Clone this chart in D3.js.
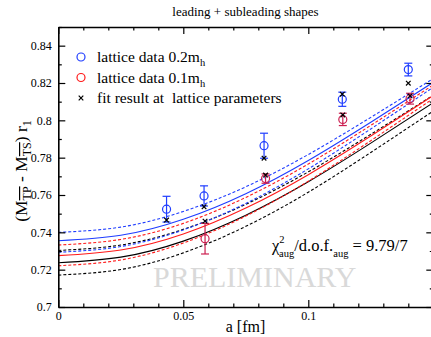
<!DOCTYPE html>
<html>
<head>
<meta charset="utf-8">
<script src="https://cdn.jsdelivr.net/npm/d3@7"></script>
<style>
  html, body { margin: 0; padding: 0; background: #fff; }
  svg { display: block; }
  svg text { font-family: "Liberation Serif", "Times New Roman", "DejaVu Serif", serif; }
</style>
</head>
<body>
<svg id="chart" width="431" height="337"></svg>
<script>
// Lattice spacing a [fm] and mass-splitting data
const blueA   = [0.0433, 0.0583, 0.0823, 0.1136, 0.1400];
const blueVal = [0.7524, 0.7595, 0.7864, 0.8113, 0.8272];
const blueErr = [0.0069, 0.0054, 0.0067, 0.0038, 0.0034];

const redA   = [0.0587, 0.0829, 0.1138, 0.1407];
const redVal = [0.7366, 0.7688, 0.8005, 0.8116];
const redErr = [0.0082, 0.0025, 0.0033, 0.0029];

const fitA   = [0.0433, 0.0583, 0.0823, 0.1136, 0.1400, 0.0587, 0.0829, 0.1138, 0.1407];
const fitVal = [0.7466, 0.7537, 0.7797, 0.8140, 0.8199, 0.7460, 0.7707, 0.8029, 0.8131];

// Continuum-extrapolation curves, sampled in a
const curveA = [0, 0.025, 0.05, 0.075, 0.1, 0.125, 0.15];
const blueMid  = [0.7355, 0.7384, 0.7470, 0.7607, 0.7785, 0.7990, 0.8204];
const blueHi   = [0.7400, 0.7428, 0.7512, 0.7644, 0.7817, 0.8016, 0.8224];
const blueLo   = [0.7293, 0.7324, 0.7413, 0.7555, 0.7740, 0.7954, 0.8177];
const redMid   = [0.7275, 0.7305, 0.7391, 0.7530, 0.7709, 0.7916, 0.8133];
const redHi    = [0.7332, 0.7362, 0.7448, 0.7587, 0.7766, 0.7973, 0.8190];
const redLo    = [0.7221, 0.7252, 0.7343, 0.7487, 0.7674, 0.7891, 0.8117];
const blackMid = [0.7237, 0.7267, 0.7353, 0.7492, 0.7671, 0.7878, 0.8095];
const blackHi  = [0.7303, 0.7332, 0.7416, 0.7550, 0.7724, 0.7925, 0.8135];
const blackLo  = [0.7171, 0.7201, 0.7290, 0.7432, 0.7615, 0.7828, 0.8050];

const xMajor = [0, 0.05, 0.1, 0.15];
const xLabeled = [0, 0.05, 0.1];
const yMajor = [0.7, 0.72, 0.74, 0.76, 0.78, 0.8, 0.82, 0.84];

const SERIF = "Liberation Serif, Times New Roman, serif";
const svg = d3.select("#chart");
const x = d3.scaleLinear().domain([0, 0.15]).range([58.3, 433.3]);
const y = d3.scaleLinear().domain([0.7, 0.85]).range([307, 27]);

const BLUE = "#1f3dff", RED = "#ff1a1a", DRED = "#cc1f50";

// title
svg.append("text").attr("x", 245.5).attr("y", 16).attr("text-anchor", "middle")
  .attr("font-family", SERIF).attr("font-size", 13).text("leading + subleading shapes");

// clip region for the curves
svg.append("clipPath").attr("id", "plotclip").append("rect")
  .attr("x", x(0)).attr("y", y(0.85)).attr("width", x(0.15) - x(0)).attr("height", y(0.7) - y(0.85));

// watermark
svg.append("text").attr("x", 153).attr("y", 287).attr("font-family", SERIF).attr("font-size", 30)
  .attr("fill", "#d9d9d9").text("PRELIMINARY");

// curves
const line = d3.line().x(d => x(d[0])).y(d => y(d[1])).curve(d3.curveNatural);
const curves = [
  [blackHi, "#000", true], [blackLo, "#000", true], [blackMid, "#000", false],
  [redHi, RED, true], [redLo, RED, true], [redMid, RED, false],
  [blueHi, BLUE, true], [blueLo, BLUE, true], [blueMid, BLUE, false]
];
const cg = svg.append("g").attr("clip-path", "url(#plotclip)");
curves.forEach(([vals, col, dashed]) => {
  cg.append("path").datum(curveA.map((a, i) => [a, vals[i]]))
    .attr("d", line).attr("fill", "none").attr("stroke", col)
    .attr("stroke-width", 1.1).attr("stroke-dasharray", dashed ? "3,2" : null);
});

// error-bar points
function drawPoints(as, vs, es, col) {
  const g = svg.append("g").attr("stroke", col).attr("fill", "none").attr("stroke-width", 1.2);
  as.forEach((a, i) => {
    const cx = x(a), cy = y(vs[i]), t = y(vs[i] + es[i]), b = y(vs[i] - es[i]);
    g.append("line").attr("x1", cx).attr("x2", cx).attr("y1", t).attr("y2", b);
    g.append("line").attr("x1", cx - 4).attr("x2", cx + 4).attr("y1", t).attr("y2", t);
    g.append("line").attr("x1", cx - 4).attr("x2", cx + 4).attr("y1", b).attr("y2", b);
    g.append("circle").attr("cx", cx).attr("cy", cy).attr("r", 4);
  });
}
drawPoints(blueA, blueVal, blueErr, BLUE);
drawPoints(redA, redVal, redErr, DRED);

function cross(g, cx, cy, s) {
  g.append("path").attr("d", `M${cx - s},${cy - s}L${cx + s},${cy + s}M${cx - s},${cy + s}L${cx + s},${cy - s}`);
}
const fg = svg.append("g").attr("stroke", "#000").attr("stroke-width", 1.2);
fitA.forEach((a, i) => cross(fg, x(a), y(fitVal[i]), 2.3));

// axes (ticks pointing inward on all four sides)
const fmt = d => xLabeled.concat(yMajor).some(v => Math.abs(v - d) < 1e-9) ? String(+d.toFixed(2)) : "";
const xMinor = d3.range(0, 0.1501, 0.01).filter(v => !xMajor.some(m => Math.abs(m - v) < 1e-9));
const yMinor = d3.range(0.7, 0.8501, 0.01).filter(v => !yMajor.some(m => Math.abs(m - v) < 1e-9));

const axG = svg.append("g");
function addAxis(gen, tr, vals, size, pad) {
  const g = axG.append("g").attr("transform", tr)
    .call(gen.tickValues(vals).tickSizeInner(-size).tickSizeOuter(0).tickPadding(pad || 0)
      .tickFormat(pad ? fmt : ""));
  g.attr("font-family", SERIF).attr("font-size", 12);
  g.select(".domain").attr("stroke-width", 1.6);
  g.selectAll(".tick line").attr("stroke-width", 1.2);
  g.selectAll("text").attr("fill", "#000");
  return g;
}
addAxis(d3.axisBottom(x), `translate(0,${y(0.7)})`, xMajor.filter(v => v < 0.15), 7, 4);
addAxis(d3.axisBottom(x), `translate(0,${y(0.7)})`, xMinor, 3.5).select(".domain").remove();
addAxis(d3.axisTop(x), `translate(0,${y(0.85)})`, xMajor, 7);
addAxis(d3.axisTop(x), `translate(0,${y(0.85)})`, xMinor, 3.5).select(".domain").remove();
addAxis(d3.axisLeft(y), `translate(${x(0)},0)`, yMajor, 7, 6.5);
addAxis(d3.axisLeft(y), `translate(${x(0)},0)`, yMinor, 3.5).select(".domain").remove();
addAxis(d3.axisRight(y), `translate(${x(0.15)},0)`, yMajor, 7);
addAxis(d3.axisRight(y), `translate(${x(0.15)},0)`, yMinor, 3.5).select(".domain").remove();

// axis titles
svg.append("text").attr("x", 245.5).attr("y", 332).attr("text-anchor", "middle")
  .attr("font-family", SERIF).attr("font-size", 16).text("a [fm]");

const yl = svg.append("text").attr("transform", "translate(27,171) rotate(-90)")
  .attr("text-anchor", "middle").attr("font-family", SERIF).attr("font-size", 17.5);
yl.append("tspan").text("(M");
yl.append("tspan").attr("font-size", 12).attr("dy", 4).style("text-decoration", "overline").text("TP");
yl.append("tspan").attr("dy", -4).text(" - M");
yl.append("tspan").attr("font-size", 12).attr("dy", 4).style("text-decoration", "overline").text("TS");
yl.append("tspan").attr("dy", -4).text(") r");
yl.append("tspan").attr("font-size", 12).attr("dy", 4).text("1");

// legend
const legend = [
  ["circle", BLUE, "lattice data 0.2m", "h"],
  ["circle", RED, "lattice data 0.1m", "h"],
  ["cross", "#000", "fit result at  lattice parameters", null]
];
legend.forEach(([kind, col, label, sub], i) => {
  const cy = 57 + i * 20.5;
  if (kind === "circle") {
    svg.append("circle").attr("cx", 81).attr("cy", cy).attr("r", 4)
      .attr("fill", "none").attr("stroke", col).attr("stroke-width", 1.2);
  } else {
    cross(svg.append("g").attr("stroke", col).attr("stroke-width", 1.2), 81, cy, 2.3);
  }
  const t = svg.append("text").attr("x", 97).attr("y", cy + 5).attr("font-family", SERIF)
    .attr("font-size", 15.5).style("white-space", "pre");
  t.append("tspan").text(label);
  if (sub) t.append("tspan").attr("font-size", 10.5).attr("dy", 4).text(sub);
});

// goodness of fit
const chi = svg.append("text").attr("x", 272).attr("y", 251).attr("font-family", SERIF).attr("font-size", 16.5);
chi.append("tspan").text("χ");
chi.append("tspan").attr("font-size", 10.5).attr("dy", -8).text("2");
chi.append("tspan").attr("font-size", 10.5).attr("dx", -5.5).attr("dy", 14).text("aug");
chi.append("tspan").attr("dy", -6).text("/d.o.f.");
chi.append("tspan").attr("font-size", 10.5).attr("dy", 6).text("aug");
chi.append("tspan").attr("dy", -6).style("white-space", "pre").text(" = 9.79/7");
</script>
</body>
</html>
